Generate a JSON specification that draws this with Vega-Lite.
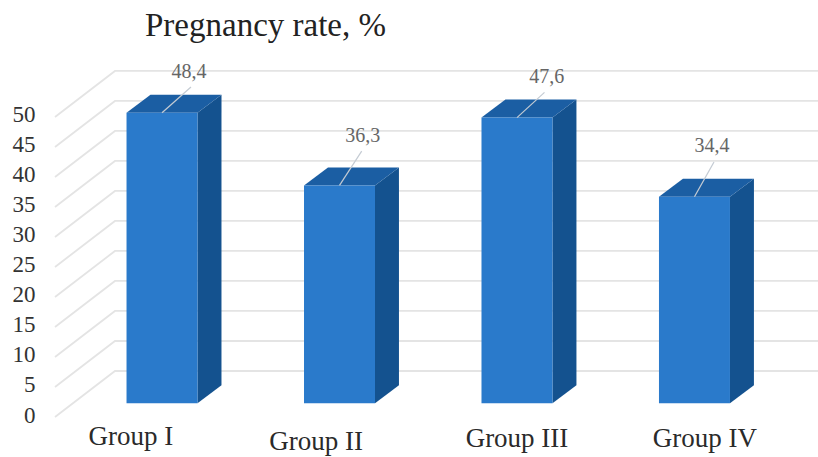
{
  "$schema": "https://vega.github.io/schema/vega-lite/v6.json",
  "width": 763,
  "height": 377,
  "autosize": "none",
  "padding": {"left": 55, "top": 40, "right": 0, "bottom": 40},
  "background": "white",
  "config": {"view": {"stroke": null}, "axis": {"labelOverlap": false}},
  "resolve": {"axis": {"y": "independent"}},
  "title": {
    "text": "Pregnancy rate, %",
    "font": "Liberation Serif",
    "fontSize": 33,
    "fontWeight": "normal",
    "color": "#222222",
    "anchor": "start",
    "frame": "group",
    "dx": 90,
    "dy": 3,
    "offset": 0
  },
  "datasets": {
    "groups": [
      {"group": "Group I", "order": 1, "value": 48.4},
      {"group": "Group II", "order": 2, "value": 36.3},
      {"group": "Group III", "order": 3, "value": 47.6},
      {"group": "Group IV", "order": 4, "value": 34.4}
    ],
    "ticks": [
      {"tick": 0}, {"tick": 5}, {"tick": 10}, {"tick": 15}, {"tick": 20}, {"tick": 25},
      {"tick": 30}, {"tick": 35}, {"tick": 40}, {"tick": 45}, {"tick": 50}
    ]
  },
  "layer": [
    {
      "description": "Gridlines running up the side wall and across the back wall",
      "data": {"name": "ticks"},
      "transform": [
        {"calculate": "[0.397, 0.735, 4.696]", "as": "wx"},
        {"calculate": "[0, 7.67, 7.67]", "as": "wy"},
        {"flatten": ["wx", "wy"]},
        {"calculate": "datum.tick + datum.wy", "as": "wallY"}
      ],
      "mark": {"type": "line", "color": "#e4e4e4", "strokeWidth": 1.8},
      "encoding": {
        "x": {"field": "wx", "type": "quantitative", "scale": {"domain": [0.397, 4.696], "nice": false, "zero": false}, "axis": null},
        "y": {
          "field": "wallY",
          "type": "quantitative",
          "scale": {"domain": [0, 62.83], "nice": false, "zero": false},
          "axis": {
            "values": [0, 5, 10, 15, 20, 25, 30, 35, 40, 45, 50],
            "title": null,
            "domain": false,
            "ticks": false,
            "grid": false,
            "labelFont": "Liberation Serif",
            "labelFontSize": 23,
            "labelColor": "#333333",
            "labelPadding": 20,
            "labelOffset": -2,
            "labelOverlap": false,
            "labelFlush": false,
            "labelSeparation": 0
          }
        },
        "detail": {"field": "tick"},
        "order": {"field": "wx"}
      }
    },
    {
      "description": "Right-hand side face of each column",
      "data": {"name": "groups"},
      "transform": [
        {"calculate": "[0, 1]", "as": "t"},
        {"flatten": ["t"]},
        {"calculate": "datum.order + 0.2 + datum.t * 0.135", "as": "sx"},
        {"calculate": "2.3 + datum.t * 3", "as": "sLow"},
        {"calculate": "datum.sLow + datum.value", "as": "sHigh"}
      ],
      "mark": {"type": "area", "color": "#14528f"},
      "encoding": {
        "x": {"field": "sx", "type": "quantitative", "axis": null},
        "y": {"field": "sLow", "type": "quantitative", "axis": null},
        "y2": {"field": "sHigh"},
        "detail": {"field": "group"}
      }
    },
    {
      "description": "Top face of each column",
      "data": {"name": "groups"},
      "transform": [
        {"calculate": "[{a: -0.2, lo: 0, hi: 0}, {a: -0.065, lo: 0, hi: 3}, {a: 0.2, lo: 0, hi: 3}, {a: 0.335, lo: 3, hi: 3}]", "as": "c"},
        {"flatten": ["c"]},
        {"calculate": "datum.order + datum.c.a", "as": "tx"},
        {"calculate": "2.3 + datum.value + datum.c.lo", "as": "tLow"},
        {"calculate": "2.3 + datum.value + datum.c.hi", "as": "tHigh"}
      ],
      "mark": {"type": "area", "color": "#1b5ea3"},
      "encoding": {
        "x": {"field": "tx", "type": "quantitative", "axis": null},
        "y": {"field": "tLow", "type": "quantitative", "axis": null},
        "y2": {"field": "tHigh"},
        "detail": {"field": "group"}
      }
    },
    {
      "description": "Front face of each column",
      "data": {"name": "groups"},
      "transform": [
        {"calculate": "datum.order - 0.2", "as": "fx"},
        {"calculate": "datum.order + 0.2", "as": "fx2"},
        {"calculate": "2.3 + datum.value", "as": "fTop"},
        {"calculate": "2.3", "as": "fBase"}
      ],
      "mark": {"type": "rect", "color": "#2a7acb"},
      "encoding": {
        "x": {"field": "fx", "type": "quantitative", "axis": null},
        "x2": {"field": "fx2"},
        "y": {"field": "fBase", "type": "quantitative", "axis": null},
        "y2": {"field": "fTop"}
      }
    },
    {
      "description": "Leader lines from each column to its value label",
      "data": {"name": "groups"},
      "transform": [
        {"calculate": "2.3 + datum.value", "as": "ly"},
        {"calculate": "datum.order + {'Group I': 0.163, 'Group II': 0.125, 'Group III': 0.155, 'Group IV': 0.11}[datum.group]", "as": "lx2"},
        {"calculate": "datum.ly + {'Group I': 4.3, 'Group II': 5.7, 'Group III': 4.2, 'Group IV': 5.8}[datum.group]", "as": "ly2"}
      ],
      "mark": {"type": "rule", "color": "#c4cbd3", "strokeWidth": 1.2},
      "encoding": {
        "x": {"field": "order", "type": "quantitative", "axis": null},
        "x2": {"field": "lx2"},
        "y": {"field": "ly", "type": "quantitative", "axis": null},
        "y2": {"field": "ly2"}
      }
    },
    {
      "description": "Value labels with a decimal comma",
      "data": {"name": "groups"},
      "transform": [
        {"calculate": "replace(format(datum.value, '.1f'), '.', ',')", "as": "valueText"},
        {"calculate": "datum.order + {'Group I': 0.152, 'Group II': 0.131, 'Group III': 0.167, 'Group IV': 0.099}[datum.group]", "as": "vx"},
        {"calculate": "2.3 + datum.value + {'Group I': 6.8, 'Group II': 8.3, 'Group III': 6.7, 'Group IV': 8.4}[datum.group]", "as": "vy"}
      ],
      "mark": {"type": "text", "font": "Liberation Serif", "fontSize": 20, "color": "#666666", "align": "center", "baseline": "middle"},
      "encoding": {
        "x": {"field": "vx", "type": "quantitative", "axis": null},
        "y": {"field": "vy", "type": "quantitative", "axis": null},
        "text": {"field": "valueText"}
      }
    },
    {
      "description": "Group names under the columns",
      "data": {"name": "groups"},
      "transform": [
        {"calculate": "datum.order + {'Group I': -0.175, 'Group II': -0.132, 'Group III': 0, 'Group IV': 0.059}[datum.group]", "as": "gx"},
        {"calculate": "{'Group I': -3.33, 'Group II': -4.17, 'Group III': -3.67, 'Group IV': -3.67}[datum.group]", "as": "gy"}
      ],
      "mark": {"type": "text", "font": "Liberation Serif", "fontSize": 27, "color": "#2a2a2a", "align": "center", "baseline": "middle"},
      "encoding": {
        "x": {"field": "gx", "type": "quantitative", "axis": null},
        "y": {"field": "gy", "type": "quantitative", "axis": null},
        "text": {"field": "group"}
      }
    }
  ]
}
